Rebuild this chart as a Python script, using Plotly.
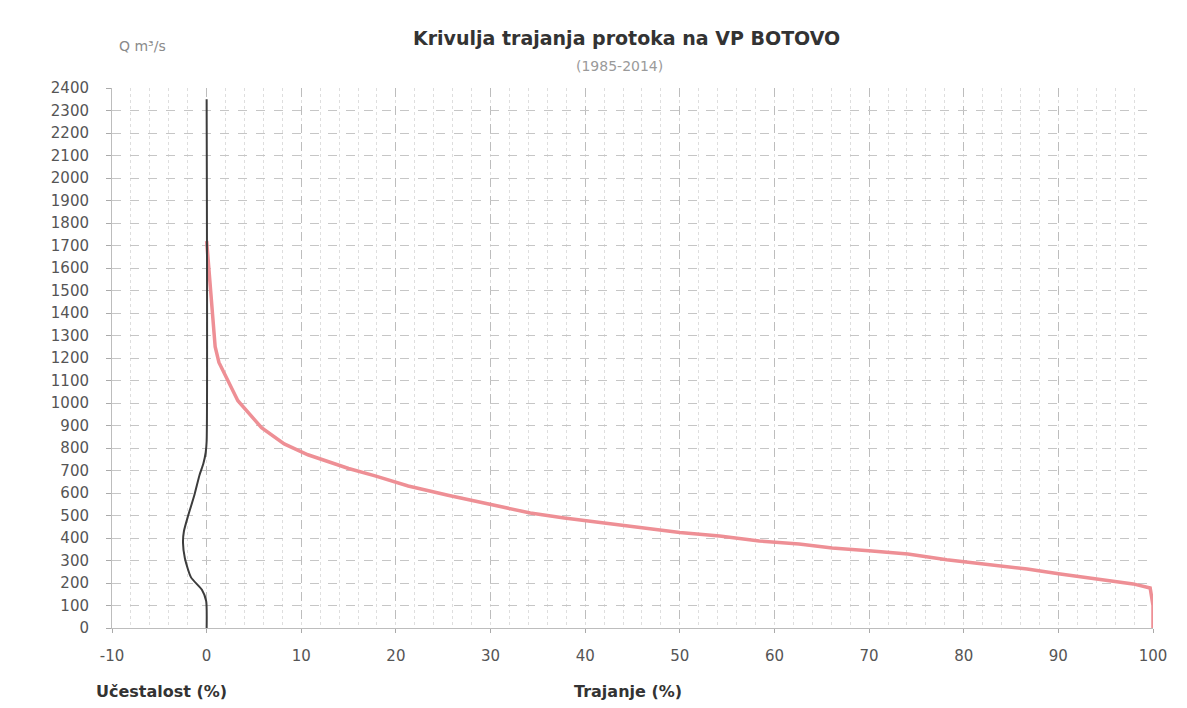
import plotly.graph_objects as go

# Duration curve (Trajanje %) vs discharge Q (m3/s)
duration_pct = [0.0, 0.3, 0.6, 0.9, 1.3, 1.9, 3.3, 5.8, 8.2, 10.7, 15.0, 17.8, 21.3, 25.5,
                30.0, 34.2, 37.8, 42.0, 46.5, 50.0, 54.2, 58.4, 62.6, 66.1, 70.3, 74.1,
                78.2, 82.2, 86.7, 90.2, 94.4, 97.9, 99.7, 100.0, 100.0]
duration_q = [1720, 1560, 1400, 1250, 1180, 1130, 1010, 890, 818, 770, 709, 676, 631, 590,
              548, 511, 489, 467, 444, 424, 409, 387, 373, 356, 342, 329,
              303, 284, 262, 240, 218, 196, 178, 100, 0]

# Frequency curve (Ucestalost %), drawn on the negative side
freq_pct = [0.0, 0.0, -0.1, -0.35, -0.75, -1.3, -1.95, -2.4, -2.5, -2.3, -1.65, -0.5, -0.05, 0.0]
freq_q = [2350, 830, 780, 730, 680, 590, 500, 430, 380, 310, 225, 170, 120, 0]

x_ticks = [-10, 0, 10, 20, 30, 40, 50, 60, 70, 80, 90, 100]
y_ticks = list(range(0, 2401, 100))

title_text = "Krivulja trajanja protoka na VP BOTOVO"
subtitle_text = "(1985-2014)"
y_title = "Q m³/s"
x_title_left = "Učestalost (%)"
x_title_right = "Trajanje (%)"

fig = go.Figure()
fig.add_trace(go.Scatter(x=duration_pct, y=duration_q, mode="lines",
                         line=dict(color="#ee8f95", width=3.5), showlegend=False))
fig.add_trace(go.Scatter(x=freq_pct, y=freq_q, mode="lines",
                         line=dict(color="#3c3c3c", width=2, shape="spline", smoothing=0.6),
                         showlegend=False))

OFF = 8  # page body margin
W, H = 1187 - 2 * OFF, 708 - 2 * OFF
PL, PR, PT, PB = 112, 1160, 88, 628  # plot area in page pixels
L = PL - OFF
R = W - (PR - OFF)
T = PT - OFF
B = H - (PB - OFF)
pw, ph = PR - PL, PB - PT

def px(xp):
    return (xp - PL) / pw

def py(yp):
    return (PB - yp) / ph

tick_font = dict(family="DejaVu Sans", size=15, color="#555555")

fig.update_layout(
    width=W, height=H,
    margin=dict(l=L, r=R, t=T, b=B),
    paper_bgcolor="white", plot_bgcolor="white",
    xaxis=dict(range=[-10, 100], tickvals=x_ticks, ticktext=[str(v) for v in x_ticks],
               showgrid=True, gridcolor="#bdbdbd", griddash="dash", gridwidth=1,
               minor=dict(dtick=2, tick0=0, showgrid=True, gridcolor="#dedede", griddash="dot"),
               zeroline=False, showline=True, linecolor="#bdbdbd", linewidth=1,
               ticks="outside", ticklen=4, tickcolor="#aaaaaa",
               tickfont=tick_font, ticklabelstandoff=10),
    yaxis=dict(range=[0, 2400], tickvals=y_ticks, ticktext=[str(v) for v in y_ticks],
               showgrid=True, gridcolor="#c6c6c6", griddash="dash", gridwidth=1,
               zeroline=False, showline=True, linecolor="#bdbdbd", linewidth=1,
               ticks="outside", ticklen=5, tickcolor="#aaaaaa",
               tickfont=tick_font, ticklabelstandoff=14),
)

annotations = [
    dict(text="<b>" + title_text + "</b>", x=px(630), y=py(38),
         font=dict(family="DejaVu Sans", size=19, color="#333333")),
    dict(text=subtitle_text, x=px(623), y=py(66),
         font=dict(family="DejaVu Sans", size=14, color="#9a9a9a")),
    dict(text=y_title, x=px(143), y=py(46),
         font=dict(family="DejaVu Sans", size=14, color="#8a8a8a")),
    dict(text="<b>" + x_title_left + "</b>", x=px(162), y=py(691),
         font=dict(family="DejaVu Sans", size=16, color="#333333")),
    dict(text="<b>" + x_title_right + "</b>", x=px(631), y=py(691),
         font=dict(family="DejaVu Sans", size=16, color="#333333")),
]
for a in annotations:
    a.update(xref="paper", yref="paper", showarrow=False, xanchor="center", yanchor="middle")
fig.update_layout(annotations=annotations)

fig.write_html("out.html")
